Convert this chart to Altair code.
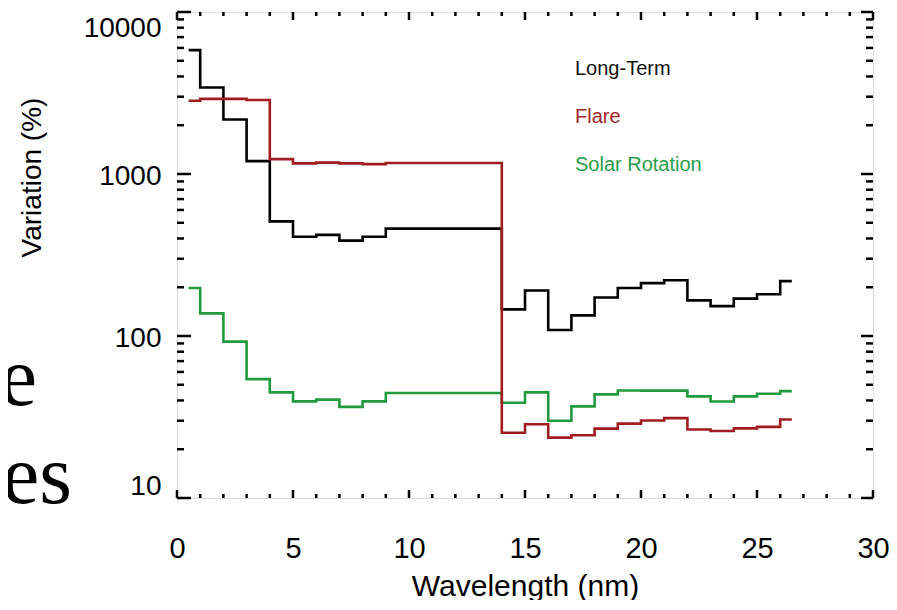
import altair as alt
import pandas as pd

# ---------------- data ----------------
bin_starts = [0.5, 1, 2, 3, 4, 5, 6, 7, 8, 9, 14, 15, 16, 17, 18, 19, 20, 21, 22, 23, 24, 25, 26]
bin_end = 26.5

long_term = [5820, 3420, 2170, 1200, 510, 410, 421, 388, 410, 460,
             146, 191, 109, 134, 173, 198, 212, 221, 166, 153, 170, 181, 218]
flare = [2830, 2910, 2910, 2860, 1236, 1163, 1175, 1163, 1151, 1170,
         25.3, 28.5, 23.6, 24.4, 26.8, 28.8, 30.1, 31.1, 26.5, 25.9, 26.9, 27.5, 30.5]
solar_rotation = [198, 138, 92.3, 54.2, 44.9, 39.5, 40.5, 36.5, 39.5, 44.5,
                  38.7, 44.9, 30.0, 36.8, 43.6, 46.1, 46.0, 46.0, 42.4, 39.4, 42.4, 44.0, 45.7]

series_names = ["Long-Term", "Flare", "Solar Rotation"]
line_colors = ["#000000", "#a11c20", "#1f9a3c"]
text_colors = ["#111111", "#a3262b", "#2a9d4a"]

x_ticks_major = [0, 5, 10, 15, 20, 25, 30]
x_ticks_minor = [v for v in range(0, 31) if v % 5]
y_ticks_major = [10, 100, 1000, 10000]
y_ticks_minor = [m * 10 ** k for k in (1, 2, 3) for m in range(2, 10)]

x_title = "Wavelength (nm)"
y_title = "Variation (%)"
stray_words = ["e", "res"]

# ---------------- layout ----------------
W, H = 696, 486
FONT = "Liberation Sans"

x_scale = alt.Scale(domain=[0, 30], nice=False, zero=False)
y_scale = alt.Scale(type="log", domain=[10, 10000], nice=False)

x_axis = alt.Axis(values=x_ticks_major, domain=False, ticks=False, tickSize=0, grid=False,
                  labelFontSize=29, labelPadding=36, labelFlush=False, labelOverlap=False,
                  title=x_title, titleFontSize=30, titleFontWeight="normal",
                  titleX=W / 2, titleY=97,
                  titleAlign="center", titleBaseline="alphabetic")
y_axis = alt.Axis(values=y_ticks_major, format="d", domain=False, ticks=False, tickSize=0, grid=False,
                  labelFontSize=28, labelPadding=16, labelFlush=True, labelOverlap=False,
                  labelOffset=2,
                  title=y_title, titleFontSize=28, titleFontWeight="normal",
                  titleAngle=270, titleX=-145, titleY=165,
                  titleAlign="center", titleBaseline="middle")


def X(field):
    return alt.X(field, type="quantitative", scale=x_scale, axis=x_axis, title=x_title)


def Y(field):
    return alt.Y(field, type="quantitative", scale=y_scale, axis=y_axis, title=y_title)


def series_frame(vals):
    xs = bin_starts + [bin_end]
    ys = vals + [vals[-1]]
    return pd.DataFrame({"wavelength": xs, "variation": ys})


layers = []
for vals, col in [(long_term, line_colors[0]),
                  (solar_rotation, line_colors[2]),
                  (flare, line_colors[1])]:
    layers.append(
        alt.Chart(series_frame(vals)).mark_line(interpolate="step-after", strokeWidth=2.6, color=col)
        .encode(x=X("wavelength"), y=Y("variation"))
    )


def xticks(vals, y0, y1):
    return alt.Chart(pd.DataFrame({"wavelength": vals})).mark_rule(color="black", strokeWidth=2.5).encode(
        x=X("wavelength"), y=alt.value(y0), y2=alt.value(y1))


def yticks(vals, x0, x1):
    return alt.Chart(pd.DataFrame({"variation": vals})).mark_rule(color="black", strokeWidth=2.5).encode(
        y=Y("variation"), x=alt.value(x0), x2=alt.value(x1))


layers += [
    xticks(x_ticks_major, H, H - 8), xticks(x_ticks_minor, H, H - 4),
    xticks(x_ticks_major, 0, 8), xticks(x_ticks_minor, 0, 4),
    yticks(y_ticks_major, 0, 14), yticks(y_ticks_minor, 0, 7),
    yticks(y_ticks_major, W, W - 12), yticks(y_ticks_minor, W, W - 7),
]

# legend labels
for name, col, yb in zip(series_names, text_colors, [63, 111, 159]):
    layers.append(
        alt.Chart(pd.DataFrame({"label": [name]})).mark_text(
            align="left", baseline="alphabetic", font=FONT, fontSize=20, color=col)
        .encode(text="label:N", x=alt.value(398), y=alt.value(yb))
    )

# stray slide text fragments on the left
for word, xr, yb in zip(stray_words, [-140, -105], [393, 491]):
    layers.append(
        alt.Chart(pd.DataFrame({"w": [word]})).mark_text(
            align="right", baseline="alphabetic", font="Liberation Serif", fontSize=84, color="black")
        .encode(text="w:N", x=alt.value(xr), y=alt.value(yb))
    )

chart = alt.layer(*layers).properties(
    width=W, height=H,
    autosize=alt.AutoSizeParams(type="none"),
    padding={"left": 169, "top": 4, "right": 16, "bottom": 102},
).configure_view(
    stroke="black", strokeWidth=3
).configure_axis(
    labelFont=FONT, titleFont=FONT, labelColor="black", titleColor="black", titleFontWeight="normal"
).configure(background="white")

chart.save("out.html", embed_options={"renderer": "svg", "actions": False})
